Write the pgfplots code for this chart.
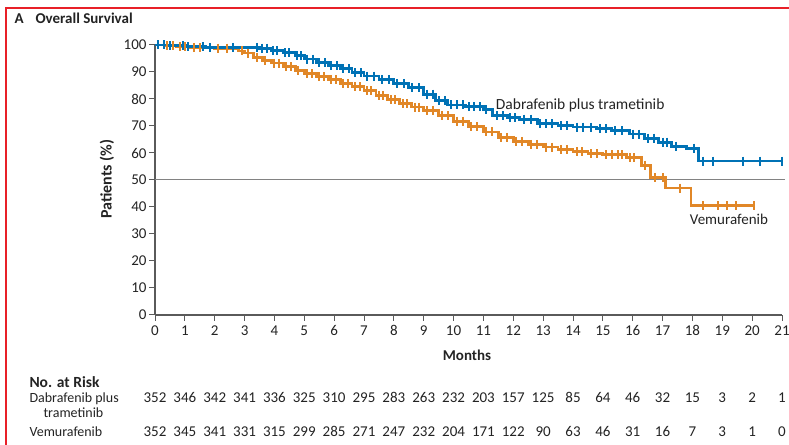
\documentclass[border=0pt]{standalone}
\usepackage{fontspec}
\setmainfont{Carlito}[Numbers=Lining]
\usepackage{pgfplots}
\usepackage{pgfplotstable}
\pgfplotsset{compat=1.18}

\definecolor{dtblue}{RGB}{0,114,181}
\definecolor{vemorange}{RGB}{225,135,39}
\definecolor{axisgray}{RGB}{90,90,90}
\definecolor{reflgray}{RGB}{130,130,130}
\definecolor{txt}{RGB}{35,35,35}
\definecolor{framered}{RGB}{232,32,40}

% Kaplan-Meier estimates: t = months, s = survival (%), c = 1 for a censored patient
\pgfplotstableread{
t s c
0 100 0
0.1 100 1
0.3 100 1
0.45 99.7 0
0.5 99.7 1
0.95 99.7 1
1.05 99.4 0
1.1 99.4 1
1.6 99.4 1
1.7 99.1 0
1.85 99.1 1
2.6 99.1 1
3.4 99.1 1
3.5 98.8 0
3.6 98.8 1
3.75 98.8 1
3.9 98.0 0
3.95 98.0 1
4.1 98.0 1
4.3 97.2 0
4.35 97.2 1
4.5 97.2 1
4.7 96.0 0
4.75 96.0 1
4.9 96.0 1
5.0 94.8 0
5.1 94.8 1
5.3 94.8 1
5.4 93.5 0
5.5 93.5 1
5.7 93.5 1
5.8 92.3 0
5.9 92.3 1
6.1 92.3 1
6.2 91.2 0
6.3 91.2 1
6.5 91.2 1
6.6 89.8 0
6.7 89.8 1
6.9 89.8 1
7.0 88.5 0
7.1 88.5 1
7.35 88.5 1
7.5 87.3 0
7.6 87.3 1
7.85 87.3 1
8.0 85.8 0
8.1 85.8 1
8.35 85.8 1
8.5 84.2 0
8.6 84.2 1
8.85 84.2 1
9.0 81.8 0
9.1 81.8 1
9.3 81.8 1
9.4 79.3 0
9.5 79.3 1
9.7 79.3 1
9.8 77.8 0
9.9 77.8 1
10.1 77.8 1
10.3 77.8 1
10.4 77.2 0
10.5 77.2 1
10.7 77.2 1
10.9 77.2 1
11.0 76.0 0
11.1 76.0 1
11.3 73.8 0
11.45 73.8 1
11.65 73.8 1
11.8 73.0 0
11.9 73.0 1
12.05 73.0 1
12.2 72.5 0
12.35 72.5 1
12.6 72.5 1
12.8 70.8 0
12.9 70.8 1
13.1 70.8 1
13.3 70.8 1
13.5 70.1 0
13.6 70.1 1
13.8 70.1 1
14.0 69.6 0
14.15 69.6 1
14.35 69.6 1
14.6 69.6 1
14.8 69.0 0
14.9 69.0 1
15.1 69.0 1
15.3 68.3 0
15.4 68.3 1
15.65 68.3 1
15.9 67.0 0
16.0 67.0 1
16.2 67.0 1
16.4 65.5 0
16.5 65.5 1
16.7 65.5 1
16.85 64.0 0
17.0 64.0 1
17.15 64.0 1
17.3 62.5 0
17.45 62.5 1
17.8 61.8 0
18.05 61.8 1
18.2 57.0 0
18.35 57.0 1
18.7 57.0 1
19.7 57.0 1
20.25 57.0 1
21.0 57.0 1
}\dabtram

\pgfplotstableread{
t s c
0 100 0
0.1 100 1
0.3 99.7 0
0.4 99.7 1
0.6 99.7 1
0.7 99.4 0
0.85 99.4 1
1.0 99.4 1
1.2 99.1 0
1.3 99.1 1
1.5 99.1 1
2.0 98.8 0
2.1 98.8 1
2.4 98.8 1
2.5 98.5 0
2.8 97.8 0
2.9 97.8 1
3.0 97.0 0
3.1 97.0 1
3.3 95.5 0
3.4 95.5 1
3.6 94.3 0
3.7 94.3 1
3.9 93.3 0
4.0 93.3 1
4.15 93.3 1
4.3 92.0 0
4.4 92.0 1
4.55 92.0 1
4.7 90.5 0
4.8 90.5 1
5.0 89.3 0
5.1 89.3 1
5.25 89.3 1
5.4 88.3 0
5.5 88.3 1
5.65 88.3 1
5.8 87.3 0
5.9 87.3 1
6.05 87.3 1
6.2 85.8 0
6.3 85.8 1
6.45 85.8 1
6.6 84.5 0
6.7 84.5 1
6.85 84.5 1
7.0 83.0 0
7.1 83.0 1
7.25 83.0 1
7.4 81.3 0
7.5 81.3 1
7.65 81.3 1
7.8 79.8 0
7.9 79.8 1
8.05 79.8 1
8.2 78.3 0
8.3 78.3 1
8.45 78.3 1
8.6 77.0 0
8.7 77.0 1
8.85 77.0 1
9.0 75.8 0
9.1 75.8 1
9.3 75.8 1
9.5 73.8 0
9.6 73.8 1
9.8 73.8 1
10.0 71.8 0
10.1 71.8 1
10.3 71.8 1
10.5 69.8 0
10.6 69.8 1
10.8 69.8 1
11.0 67.8 0
11.1 67.8 1
11.3 67.8 1
11.5 65.8 0
11.6 65.8 1
11.8 65.8 1
12.0 64.3 0
12.1 64.3 1
12.3 64.3 1
12.5 63.2 0
12.6 63.2 1
12.8 63.2 1
13.0 62.2 0
13.1 62.2 1
13.3 62.2 1
13.5 61.3 0
13.6 61.3 1
13.8 61.3 1
14.0 60.5 0
14.15 60.5 1
14.3 60.5 1
14.5 59.8 0
14.6 59.8 1
14.8 59.8 1
15.0 59.4 0
15.1 59.4 1
15.3 59.4 1
15.5 59.4 1
15.65 59.4 1
15.8 58.2 0
15.9 58.2 1
16.05 58.2 1
16.3 55.5 0
16.4 55.5 1
16.6 51.0 0
16.75 51.0 1
17.0 51.0 1
17.1 47.0 0
17.6 47.0 1
17.95 40.5 0
18.35 40.5 1
18.85 40.5 1
19.15 40.5 1
19.45 40.5 1
20.05 40.5 1
}\vemu

\begin{document}
\begin{tikzpicture}[font=\fontsize{14}{16}\selectfont, text=txt]
\useasboundingbox (0,0) rectangle (789pt,444pt);
% panel frame
\draw[framered, line width=2pt] (5.5pt,-2pt) -- (5.5pt,435.5pt) -- (792pt,435.5pt);
\node[anchor=base west, font=\fontsize{15}{17}\selectfont\bfseries] at (11pt,420pt) {A};
\node[anchor=base west, font=\fontsize{15}{17}\selectfont\bfseries] at (32pt,420pt) {Overall Survival};

\begin{axis}[
  at={(155pt,129pt)}, anchor=south west,
  scale only axis, width=627pt, height=270pt,
  xmin=0, xmax=21, ymin=0, ymax=100,
  axis x line*=bottom, axis y line*=left,
  axis line style={axisgray, line width=1.1pt},
  tick style={axisgray, line width=1pt},
  tick align=outside, major tick length=6pt,
  xtick={0,1,...,21}, ytick={0,10,...,100},
  /pgf/number format/assume math mode=true,
  ticklabel style={font=\fontsize{15}{17}\selectfont, text=txt},
  xticklabel style={yshift=-1pt},
  yticklabel style={xshift=1pt},
  clip=false,
]
\draw[reflgray, line width=1pt] (axis cs:0,50) -- (axis cs:21.1,50);

\addplot[const plot, vemorange, line width=2.8pt, no marks] table[x=t, y=s] {\vemu};
\addplot[only marks, vemorange, mark=|, mark size=4.5pt, mark options={line width=2pt},
  restrict expr to domain={\thisrow{c}}{0.5:1.5}] table[x=t, y=s] {\vemu};

\addplot[const plot, dtblue, line width=2.8pt, no marks] table[x=t, y=s] {\dabtram};
\addplot[only marks, dtblue, mark=|, mark size=4.5pt, mark options={line width=2pt},
  restrict expr to domain={\thisrow{c}}{0.5:1.5}] table[x=t, y=s] {\dabtram};

\node[anchor=west, font=\fontsize{15.5}{17}\selectfont] at (axis cs:11.3,77.8) {Dabrafenib plus trametinib};
\node[anchor=west, font=\fontsize{15}{17}\selectfont] at (axis cs:17.8,35.6) {Vemurafenib};
\end{axis}

\node[rotate=90, font=\fontsize{16}{18}\selectfont\bfseries] at (107pt,265pt) {Patients (\%)};
\node[font=\fontsize{15}{17}\selectfont\bfseries] at (467pt,89pt) {Months};

% numbers at risk
\node[anchor=base west, font=\fontsize{15.5}{17}\selectfont\bfseries] at (26pt,56pt) {No. at Risk};
\node[anchor=base west] at (26pt,41pt) {Dabrafenib plus};
\node[anchor=base west] at (40pt,26pt) {trametinib};
\node[anchor=base west] at (26pt,7pt) {Vemurafenib};
\foreach \n [count=\i from 0] in {352,346,342,341,336,325,310,295,283,263,232,203,157,125,85,64,46,32,15,3,2,1}
  \node[anchor=base, font=\fontsize{15}{17}\selectfont] at ({(155+29.857*\i)*1pt},41pt) {\n};
\foreach \n [count=\i from 0] in {352,345,341,331,315,299,285,271,247,232,204,171,122,90,63,46,31,16,7,3,1,0}
  \node[anchor=base, font=\fontsize{15}{17}\selectfont] at ({(155+29.857*\i)*1pt},7pt) {\n};
\end{tikzpicture}
\end{document}
